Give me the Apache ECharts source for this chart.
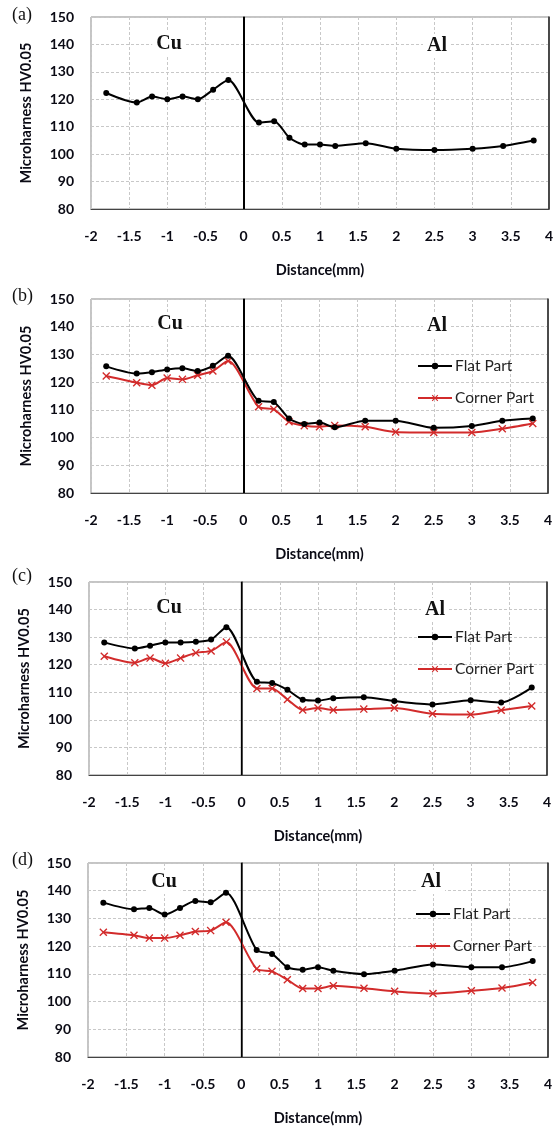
<!DOCTYPE html>
<html>
<head>
<meta charset="utf-8">
<script src="https://cdn.jsdelivr.net/npm/echarts@6/dist/echarts.min.js"></script>
<style>html,body{margin:0;padding:0;background:#fff}#c{width:556px;height:1128px}</style>
</head>
<body>
<div id="c"></div>
<script>
// ---- data ----
const distance = [-1.8,-1.4,-1.2,-1.0,-0.8,-0.6,-0.4,-0.2,0.2,0.4,0.6,0.8,1.0,1.2,1.6,2.0,2.5,3.0,3.4,3.8];
const xTicks = ['-2','-1.5','-1','-0.5','0','0.5','1','1.5','2','2.5','3','3.5','4'];
const yTicks = [80,90,100,110,120,130,140,150];
const aFlat   = [122.3,118.8,121.0,120.0,121.0,120.0,123.5,127.0,111.5,112.0,106.0,103.5,103.5,103.0,104.0,102.0,101.5,102.0,103.0,105.0];
const bFlat   = [125.7,123.1,123.6,124.6,125.0,124.0,125.9,129.5,113.3,112.8,106.9,104.9,105.4,103.7,106.1,106.1,103.5,104.2,106.1,106.9];
const bCorner = [122.2,119.8,118.9,121.5,121.0,122.5,124.0,127.6,111.1,110.2,105.7,104.3,103.9,104.4,103.9,102.0,101.8,101.8,103.2,105.1];
const cFlat   = [128.1,125.9,126.9,128.1,128.1,128.3,129.1,133.6,113.8,113.4,110.9,107.3,107.0,107.8,108.2,106.8,105.6,107.1,106.3,111.7];
const cCorner = [123.1,120.7,122.4,120.5,122.4,124.3,125.0,128.2,111.4,111.4,107.4,103.6,104.3,103.6,103.9,104.3,102.2,101.9,103.5,105.0];
const dFlat   = [135.7,133.3,133.8,131.4,133.8,136.3,135.8,139.3,118.6,117.2,112.4,111.5,112.4,111.1,109.9,111.1,113.4,112.4,112.4,114.6];
const dCorner = [125.0,123.9,122.9,122.9,123.9,125.3,125.6,128.6,111.8,110.9,107.9,104.7,104.7,105.7,104.8,103.7,102.9,103.9,104.9,106.9];
const panelLabels = ['(a)','(b)','(c)','(d)'];
const regionLabels = ['Cu','Al'];
const seriesNames = ['Flat Part','Corner Part'];
const xTitle = 'Distance(mm)';
const yTitle = 'Microharness HV0.05';

// ---- layout / style ----
const panels = [
  {top:17,  h:192, left:91, right:7, flat:aFlat, corner:null,    zl:2,   lab:16,  cu:[169,44],  al:[437,46],  leg:null},
  {top:299, h:194, left:91, right:8, flat:bFlat, corner:bCorner, zl:2,   lab:297, cu:[170,324], al:[437,326], leg:[417,358]},
  {top:582, h:193, left:89, right:9, flat:cFlat, corner:cCorner, zl:1.3, lab:577, cu:[169,608], al:[435,610], leg:[417,629]},
  {top:863, h:194, left:88, right:8, flat:dFlat, corner:dCorner, zl:1.3, lab:861, cu:[164,882], al:[431,882], leg:[415,906]}
];
const FONT = 'Lato, "Open Sans", sans-serif';
const RED = '#d22b2b';
const XSYM = 'path://M0,1.2L1.2,0L5,3.8L8.8,0L10,1.2L6.2,5L10,8.8L8.8,10L5,6.2L1.2,10L0,8.8L3.8,5Z';
const pairs = ys => distance.map((x,i)=>[x, ys[i]]);

const grid=[], xAxis=[], yAxis=[], series=[], legend=[], graphic=[];
panels.forEach((p,i)=>{
  grid.push({left:p.left, right:p.right, top:p.top, height:p.h, show:true, borderColor:'#8a8a8a', borderWidth:1, containLabel:false});
  xAxis.push({type:'value', gridIndex:i, min:-2, max:4, interval:0.5,
    axisLine:{show:true, onZero:false, lineStyle:{color:'#444', width:1.2}},
    axisTick:{show:false},
    axisLabel:{margin:20, color:'#0a0a14', fontFamily:FONT, fontWeight:'bold', fontSize:14,
      formatter:(v)=>{const k=Math.round((v+2)/0.5); return xTicks[k]!==undefined?xTicks[k]:String(v);}},
    splitLine:{show:true, lineStyle:{color:'#c8c8c8', type:[3,2], width:1}},
    name:xTitle, nameLocation:'middle', nameGap:54,
    nameTextStyle:{color:'#0a0a14', fontFamily:FONT, fontWeight:'bold', fontSize:14.5}
  });
  yAxis.push({type:'value', gridIndex:i, min:yTicks[0], max:yTicks[yTicks.length-1], interval:10,
    axisLine:{show:true, lineStyle:{color:'#222', width:1.5}},
    axisTick:{show:false},
    axisLabel:{margin:17, color:'#0a0a14', fontFamily:FONT, fontWeight:'bold', fontSize:14},
    splitLine:{show:true, lineStyle:{color:'#c8c8c8', type:[3,2], width:1}},
    name:yTitle, nameLocation:'middle', nameGap:57,
    nameTextStyle:{color:'#0a0a14', fontFamily:FONT, fontWeight:'bold', fontSize:14.5}
  });
  yAxis.push({type:'value', gridIndex:i, position:'right', min:80, max:150, interval:10,
    axisLine:{show:true, lineStyle:{color:'#222', width:1.5}},
    axisTick:{show:false}, axisLabel:{show:false}, splitLine:{show:false}});
  series.push({type:'line', name:seriesNames[0], xAxisIndex:i, yAxisIndex:2*i, data:pairs(p.flat),
    smooth:0.25, symbol:'circle', symbolSize:6, showSymbol:true,
    itemStyle:{color:'#000'}, lineStyle:{color:'#000', width:2}, z:4,
    markLine:{silent:true, symbol:'none', label:{show:false}, animation:false,
      lineStyle:{color:'#000', type:'solid', width:p.zl}, data:[{xAxis:0}]}
  });
  if(p.corner){
    series.push({type:'line', name:seriesNames[1], xAxisIndex:i, yAxisIndex:2*i, data:pairs(p.corner),
      smooth:0.25, symbol:XSYM, symbolSize:8, showSymbol:true,
      itemStyle:{color:RED}, lineStyle:{color:RED, width:2}, z:3});
    legend.push({orient:'vertical', left:p.leg[0], top:p.leg[1], padding:0, itemGap:16,
      itemWidth:34, itemHeight:8, data:seriesNames,
      textStyle:{fontFamily:FONT, fontSize:15.5, color:'#222', lineHeight:16, padding:[0,0,0,-2]}});
  }
  graphic.push({type:'text', left:12, top:p.lab-10, style:{text:panelLabels[i], font:'18px "Liberation Serif", serif', fill:'#111'}});
  [p.cu, p.al].forEach((pos,k)=>{
    graphic.push({type:'text', x:pos[0], y:pos[1], z:10, style:{text:regionLabels[k], font:'bold 20px "Liberation Serif", serif',
      fill:'#111', align:'center', verticalAlign:'middle', backgroundColor:'#fff', padding:[2,4]}});
  });
});

const chart = echarts.init(document.getElementById('c'), null, {renderer:'canvas'});
chart.setOption({animation:false, backgroundColor:'#fff', grid, xAxis, yAxis, series, legend, graphic});
</script>
</body>
</html>
